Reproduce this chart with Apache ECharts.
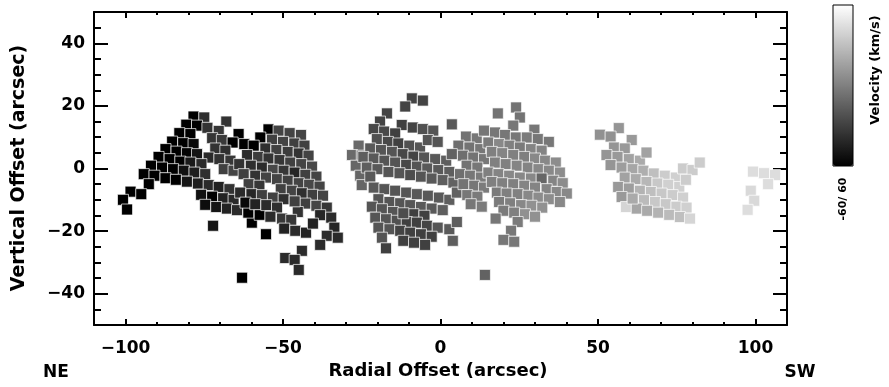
<!DOCTYPE html>
<html>
<head>
<meta charset="utf-8">
<script src="https://cdn.jsdelivr.net/npm/echarts@6/dist/echarts.min.js"></script>
<style>
  html, body { margin: 0; padding: 0; background: #ffffff; }
  #chart { width: 889px; height: 387px; }
</style>
</head>
<body>
<div id="chart"></div>
<script>
// Fibre positions along the slit (arcsec) and their line-of-sight velocities (km/s)
const radialOffset = [
  // north-east end
  -78.4,-75,-68,-80.7,-77.3,-74,-82.9,-79.4,-70.4,-72.5,
  -69.4,-64.1,-66,-85.2,-81.7,-78.4,-87.3,-83.8,-80.5,-77.3,
  -71.5,-68.3,-73.6,-70.2,-66.7,-89.5,-86,-82.6,-79.4,-75.9,
  -91.9,-88.4,-84.9,-81.5,-78.1,-74.7,-68.8,-65.7,-94.2,-90.8,
  -87.3,-84,-80.5,-77,-73.6,-70.4,-67,-92.6,-98.4,-95,
  -100.8,-99.5,-76,-72.5,-69,-65.7,-74.7,-71.2,-67.8,-64.6,
  -72.2,
  -54.6,-57.2,-62.3,-59.3,-59.9,-55.4,-63,-61,-57.4,
  -51.4,-47.9,-44.3,-53.5,-50,-46.4,-43.2,-55.6,-52.1,-48.5,
  -45,-41.9,-61.4,-57.9,-54.6,-51.1,-47.7,-44.2,-40.8,-63.9,
  -60.2,-56.7,-53.2,-49.8,-46.3,-42.9,-39.4,-62.5,-58.8,-55.4,
  -51.9,-48.5,-45,-41.7,-38.4,-60.9,-57.5,-50.7,-47.2,-44,
  -40.6,-37.3,-63.6,-60,-56.7,-53.2,-49.8,-42.9,-39.4,-36.1,
  -61.9,-58.8,-55.3,-51.9,-45.3,-54,-50.3,-47.4,-38.2,-34.7,
  -49.6,-46.1,-42.7,-40.5,-33.7,-36.1,-32.6,-38.2,-44,-49.3,
  -46.3,-45,-46.3,
  // central field
  -26,-28.1,-25,-26.9,-25.5,-25,-9.1,-5.6,-11.2,-17,
  -19.2,-12.3,-8.8,-5.6,-2.3,3.6,-21.2,-17.9,-14.4,-20.2,
  -16.7,-13.4,-9.9,-6.5,-4,-0.9,-22.3,-18.9,-15.4,-12,
  -8.6,-5.2,-1.7,1.8,-24.5,-21.2,-17.8,-14.4,-10.9,-7.5,
  -4.2,-0.7,2.8,-23.4,-20,-16.5,-13,-9.6,-6.2,-2.8,
  0.7,4.1,-22.3,-21.2,-17.8,-14.4,-10.9,-7.5,-4,-0.5,
  2.8,5.2,-19.7,-16.2,-12.8,-9.6,-6.2,-2.8,0.7,-21.8,
  -18.6,-15.1,-8.6,-5.1,-20.7,-17.3,-13.9,-10.7,-7.5,-4.3,
  -0.9,2.8,5.2,-19.7,-16.2,-12.8,-9.6,-6.2,-2.8,-18.6,
  -11.8,-8.4,-4.9,3.9,-17.3,14.1,-11.8,
  8.1,11.5,13.8,5.7,9.2,12.6,7.1,10.4,13.8,8.3,
  11.7,6.2,9.4,12.8,7.3,10.7,13.8,8.5,11.7,9.6,
  13.1,3.6,
  24,18.2,25.2,23.1,29.8,17.3,20.5,23.9,27.4,30.9,
  34.4,15.2,18.6,21.9,25.2,28.7,32.1,16.3,19.6,23.1,
  26.6,30,33.2,36.6,17.3,20.7,24.2,27.7,31.1,34.4,
  37.9,15.2,18.4,21.8,25.2,28.7,32.1,35.8,38.8,16.3,
  19.6,23.1,26.6,30,33.7,36.9,40.1,17.9,21,24.5,
  27.9,31.1,34.4,37.9,18.6,22.1,25.6,28.9,32.3,20,
  23.4,26.8,30,17.5,24.5,22.4,20,23.4,
  // south-west end
  56.6,50.6,54,60.7,55.1,58.5,52.7,56.2,59.8,63.3,
  65.4,54,57.5,61,64.4,67.7,71.2,74.7,77,80,
  82.3,58.5,62,65.4,68.9,72.3,75.8,77.9,56.4,59.8,
  63.3,66.8,70.2,73.7,77,57.5,64.6,68.1,71.5,74.9,
  78.1,58.9,62.3,65.6,69.1,72.6,76,79.2,61,
  99.2,102.7,106.2,104,98.5,99.6,97.5
];
const verticalOffset = [
  16.6,16.3,15,14,13.7,13,11.3,11,12,9.7,
  9.1,11,8.3,8.6,8.1,7.8,6.2,5.4,4.9,4.6,
  6.4,5.7,3.5,3,2.5,3.7,3,2.2,1.9,1.4,
  0.9,0.3,-0.2,-0.7,-1.3,-1.8,-0.2,-0.7,-1.8,-2.3,
  -3.1,-3.6,-4.2,-4.8,-5.3,-5.9,-6.6,-5,-7.4,-8.2,
  -10,-13.1,-8.4,-9,-9.5,-10,-11.6,-12.3,-12.8,-13.3,
  -18.3,
  12.5,9.9,7.8,7.3,-17.3,-21,-34.9,-14.1,-14.8,
  12.1,11.3,10.7,9.2,8.5,8,7.3,6.4,5.9,5.3,
  4.8,4.1,4.3,3.7,3.2,2.7,1.9,1.4,0.6,1.4,
  0.9,0.3,-0.4,-0.7,-1.3,-2,-2.6,-1.8,-2.3,-2.9,
  -3.4,-3.9,-4.7,-5.2,-5.8,-5,-5.5,-6.6,-7.1,-7.9,
  -8.4,-8.7,-7.7,-8.2,-8.5,-9.3,-9.8,-11.2,-11.9,-12.5,
  -10.9,-11.4,-11.7,-12.5,-13.9,-15.4,-16,-16.4,-14.9,-15.7,
  -19.2,-19.9,-20.5,-17.6,-18.9,-21.5,-22.1,-24.4,-26.3,-28.6,
  -29.2,-32.4,-10.5,
  7.3,4.3,4.1,0.9,-2.3,-5.3,22.4,21.7,19.8,17.6,
  15,13.9,13.1,12.6,12.1,14.1,12.6,11.8,11.2,9.4,
  8.5,8,7.3,6.7,9.1,8.5,6.4,5.9,5.3,4.6,
  3.8,3.5,3,2.5,3.7,3.2,2.5,1.9,1.2,0.6,
  0,-0.5,-1.1,0.3,-0.2,-1.1,-1.5,-2.1,-2.6,-3.2,
  -3.7,-4.5,-2.6,-6.1,-6.6,-7.1,-7.7,-8.2,-8.7,-9.3,
  -10,-7.7,-9.8,-10.7,-11.1,-11.7,-12.3,-12.8,-13.3,-12.2,
  -13,-13.9,-14.6,-15.1,-15.7,-16.2,-16.7,-17.1,-17.3,-18.3,
  -18.9,-19.4,-17.1,-18.9,-19.4,-19.9,-20.5,-21,-21.8,-22.1,
  -23.1,-23.7,-24.4,-23.1,-25.5,-34,-14.3,
  10.2,9.6,12.1,7.3,6.7,6.2,4.1,3.5,3,0.9,
  0.3,-1.8,-2.3,-2.9,-5,-5.5,-6.1,-8.5,-9,-11.4,
  -12.2,4.6,
  19.5,17.6,16.3,13.7,12.4,11.5,10.7,9.9,9.9,9.4,
  8.5,8.3,7.8,7.3,6.7,6.2,5.7,5.3,4.9,4.3,
  3.7,3.2,2.5,1.9,1.9,1.4,0.9,0.3,-0.2,-0.7,
  -1.3,-1.3,-1.8,-2.3,-2.9,-3.2,-3.2,-3.9,-4.7,-4.3,
  -4.7,-5,-5.5,-6.1,-6.6,-7.5,-8,-7.7,-8,-8.2,
  -8.7,-9.3,-9.8,-10.7,-10.7,-11.1,-11.7,-11.9,-12.5,-13.5,
  -14.1,-14.6,-15.4,-16,-17.1,-19.9,-22.8,-23.4,
  12.9,10.8,10.2,9.1,6.7,6.4,4.3,3.7,3,2.5,
  5.1,1.1,0.3,-0.2,-0.7,-1.6,-2.3,-2.9,0,-0.5,
  1.9,-2.9,-3.4,-4.3,-4.8,-5.2,-5.9,-3.6,-5.9,-6.4,
  -7.1,-7.5,-8,-8.5,-9.3,-9.1,-10.1,-10.7,-11.4,-12.2,
  -12.5,-12.3,-12.8,-13.5,-14.1,-14.8,-15.5,-16,-9.6,
  -1,-1.5,-2.1,-5,-7.1,-10.3,-13.2
];
const velocity = [
  -62,-38,-36,-62,-60,-36,-62,-60,-34,-35,
  -33,-62,-60,-62,-60,-56,-62,-60,-58,-50,
  -36,-38,-40,-36,-34,-62,-62,-60,-48,-40,
  -62,-62,-60,-52,-46,-38,-30,-28,-62,-62,
  -62,-60,-50,-46,-40,-44,-36,-62,-62,-62,
  -62,-62,-52,-60,-44,-40,-54,-50,-44,-40,
  -50,
  -62,-62,-60,-62,-62,-62,-62,-62,-60,
  -28,-28,-28,-30,-28,-30,-30,-38,-30,-32,
  -36,-28,-40,-32,-36,-34,-30,-28,-26,-36,
  -38,-40,-26,-34,-42,-30,-28,-30,-36,-28,
  -28,-30,-28,-26,-28,-30,-34,-30,-28,-38,
  -30,-28,-40,-42,-30,-30,-38,-30,-28,-34,
  -56,-44,-40,-38,-36,-40,-34,-34,-42,-40,
  -44,-40,-44,-44,-42,-40,-40,-40,-40,-40,
  -40,-40,-30,
  -10,-10,-10,-12,-12,-12,-28,-28,-28,-28,
  -28,-30,-28,-22,-20,-18,-26,-26,-30,-22,
  -26,-30,-22,-20,-20,-20,-18,-20,-20,-26,
  -28,-20,-18,-16,-16,-18,-20,-20,-26,-20,
  -18,-18,-16,-16,-18,-20,-20,-24,-20,-18,
  -16,-14,-18,-18,-20,-20,-20,-18,-18,-18,
  -16,-14,-20,-20,-20,-20,-18,-18,-16,-20,
  -20,-20,-30,-30,-20,-20,-22,-30,-30,-28,
  -20,-18,-16,-20,-20,-28,-30,-30,-30,-20,
  -30,-30,-30,-16,-30,-14,-24,
  -6,-4,-4,-8,-6,-4,-8,-6,-4,-6,
  -4,-8,-4,-2,-6,-4,-2,-4,-2,-4,
  -2,-14,
  -6,-6,-6,-4,-4,-4,-4,-4,-2,-4,
  -4,-2,4,0,-2,2,2,0,2,0,
  0,4,4,6,0,0,2,2,4,4,
  6,0,2,4,4,4,-12,2,6,0,
  0,0,2,2,2,4,4,-2,0,0,
  4,6,6,4,-2,0,4,8,8,-2,
  0,8,8,-4,-2,-4,-4,-4,
  10,8,8,12,10,12,10,12,16,20,
  16,10,14,18,22,30,36,38,36,36,
  36,16,20,26,34,38,38,36,12,14,
  24,30,34,36,38,12,28,34,34,36,
  38,40,18,20,24,28,30,40,20,
  44,44,44,44,42,42,44
];

const xRange = [-110, 110];
const yRange = [-50, 50];
const xMajorTicks = [-100, -50, 0, 50, 100];
const xMinorTicks = [-110,-100,-90,-80,-70,-60,-50,-40,-30,-20,-10,0,10,20,30,40,50,60,70,80,90,100,110];
const yMajorTicks = [-40, -20, 0, 20, 40];
const yMinorTicks = [-50,-45,-40,-35,-30,-25,-20,-15,-10,-5,0,5,10,15,20,25,30,35,40,45,50];
const velocityRange = [-60, 60];

const FONT = 'DejaVu Sans';
const points = radialOffset.map((x, i) => [x, verticalOffset[i], velocity[i]]);
const minusFmt = v => String(v).replace('-', '\u2212');

function makeAxis(dir, position, ticks, len, withLine, labels) {
  const range = dir === 'x' ? xRange : yRange;
  return {
    type: 'value',
    position: position,
    min: range[0],
    max: range[1],
    axisLine: { show: withLine, onZero: false, lineStyle: { color: '#000', width: 2 } },
    axisTick: { show: true, inside: true, length: len, customValues: ticks,
                lineStyle: { color: '#000', width: 2 } },
    axisLabel: labels ? {
      show: true, customValues: labels, formatter: minusFmt,
      color: '#000', fontFamily: FONT, fontWeight: 'bold', fontSize: 17,
      margin: dir === 'x' ? 15 : 9
    } : { show: false },
    splitLine: { show: false },
    minorTick: { show: false }
  };
}

const chart = echarts.init(document.getElementById('chart'), null, { renderer: 'canvas' });
chart.setOption({
  animation: false,
  backgroundColor: '#ffffff',
  grid: { left: 94, right: 102, top: 12, bottom: 62, containLabel: false },
  xAxis: [
    makeAxis('x', 'bottom', xMajorTicks, 6, true, xMajorTicks),
    makeAxis('x', 'bottom', xMinorTicks, 3, false, null),
    makeAxis('x', 'top', xMajorTicks, 6, true, null),
    makeAxis('x', 'top', xMinorTicks, 3, false, null)
  ],
  yAxis: [
    makeAxis('y', 'left', yMajorTicks, 14, true, yMajorTicks),
    makeAxis('y', 'left', yMinorTicks, 7, false, null),
    makeAxis('y', 'right', yMajorTicks, 14, true, null),
    makeAxis('y', 'right', yMinorTicks, 7, false, null)
  ],
  visualMap: {
    type: 'continuous',
    min: velocityRange[0],
    max: velocityRange[1],
    dimension: 2,
    seriesIndex: 0,
    orient: 'vertical',
    left: 833,
    top: 5,
    padding: 0,
    itemWidth: 20,
    itemHeight: 161,
    calculable: false,
    hoverLink: false,
    inRange: { color: ['#000000', '#ffffff'] }
  },
  series: [{
    type: 'scatter',
    xAxisIndex: 0,
    yAxisIndex: 0,
    data: points,
    symbol: 'rect',
    symbolSize: 11,
    silent: true,
    itemStyle: { borderColor: '#ffffff', borderWidth: 0.7, opacity: 1 },
    emphasis: { disabled: true }
  }],
  graphic: [
    { type: 'rect', silent: true, shape: { x: 833, y: 5, width: 20, height: 161 },
      style: { fill: null, stroke: '#000', lineWidth: 1 }, z: 100 },
    { type: 'text', x: 438, y: 371, silent: true,
      style: { text: 'Radial Offset (arcsec)', fill: '#000', font: 'bold 18px "' + FONT + '"',
               textAlign: 'center', textVerticalAlign: 'middle' } },
    { type: 'text', x: 56, y: 373, silent: true,
      style: { text: 'NE', fill: '#000', font: 'bold 17px "' + FONT + '"',
               textAlign: 'center', textVerticalAlign: 'middle' } },
    { type: 'text', x: 800, y: 373, silent: true,
      style: { text: 'SW', fill: '#000', font: 'bold 17px "' + FONT + '"',
               textAlign: 'center', textVerticalAlign: 'middle' } },
    { type: 'text', x: 19, y: 168, rotation: Math.PI / 2, silent: true,
      style: { text: 'Vertical Offset (arcsec)', fill: '#000', font: 'bold 19px "' + FONT + '"',
               textAlign: 'center', textVerticalAlign: 'middle' } },
    { type: 'text', x: 843, y: 199, rotation: Math.PI / 2, silent: true,
      style: { text: velocityRange[0] + '/ ' + velocityRange[1], fill: '#000',
               font: 'bold 11px "' + FONT + '"', textAlign: 'center', textVerticalAlign: 'middle' } },
    { type: 'text', x: 876, y: 70, rotation: Math.PI / 2, silent: true,
      style: { text: 'Velocity (km/s)', fill: '#000', font: 'bold 13px "' + FONT + '"',
               textAlign: 'center', textVerticalAlign: 'middle' } }
  ]
});
</script>
</body>
</html>
